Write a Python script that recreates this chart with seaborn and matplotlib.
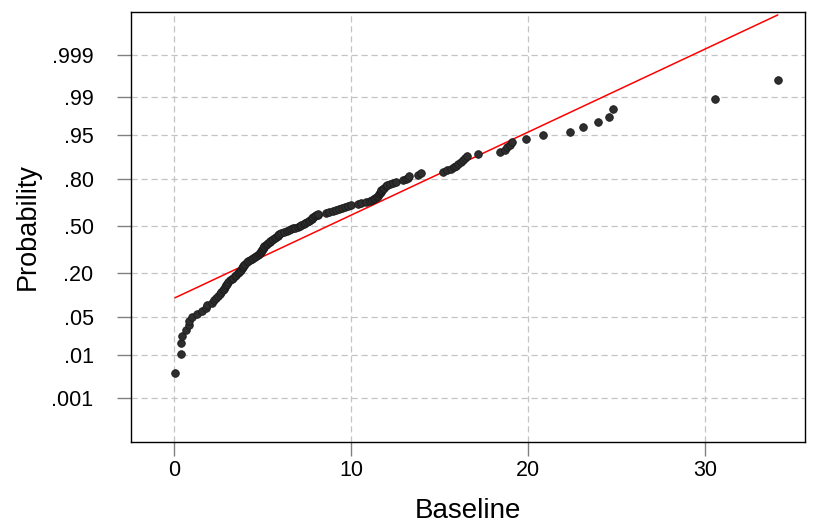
import numpy as np
import pandas as pd
import matplotlib
matplotlib.use("Agg")
import matplotlib.pyplot as plt
import seaborn as sns
from statistics import NormalDist

baseline = [
    0.06, 0.38, 0.40, 0.47, 0.68, 0.85, 0.86, 1.00, 1.30, 1.58,
    1.78, 1.89, 2.15, 2.26, 2.37, 2.49, 2.60, 2.66, 2.77, 2.82,
    2.88, 2.94, 2.99, 3.07, 3.16, 3.25, 3.33, 3.42, 3.53, 3.63,
    3.69, 3.73, 3.79, 3.82, 3.87, 3.92, 3.97, 4.01, 4.10, 4.18,
    4.29, 4.41, 4.49, 4.58, 4.66, 4.75, 4.80, 4.86, 4.92, 4.94,
    4.97, 5.00, 5.03, 5.06, 5.11, 5.17, 5.23, 5.31, 5.40, 5.45,
    5.54, 5.62, 5.71, 5.79, 5.85, 5.90, 5.96, 6.05, 6.21, 6.38,
    6.50, 6.61, 6.74, 6.84, 6.98, 7.09, 7.20, 7.32, 7.40, 7.50,
    7.60, 7.68, 7.77, 7.82, 7.85, 7.97, 8.05, 8.11, 8.16, 8.59,
    8.76, 8.98, 9.15, 9.32, 9.49, 9.66, 9.83, 10.00, 10.40, 10.56,
    10.85, 11.07, 11.19, 11.30, 11.38, 11.47, 11.53, 11.58, 11.61, 11.67,
    11.69, 11.72, 11.78, 11.86, 11.98, 12.06, 12.20, 12.37, 12.54, 12.94,
    13.11, 13.22, 13.28, 13.79, 13.95, 15.20, 15.42, 15.65, 15.82, 15.96,
    16.07, 16.21, 16.33, 16.44, 16.58, 17.18, 18.42, 18.70, 18.81, 18.98,
    19.10, 19.89, 20.86, 22.37, 23.12, 23.97, 24.59, 24.82, 30.56, 34.11,
]

# Fitted normal reference line parameters
fit_mean = 8.68
fit_sd = 6.68
line_x = [0.06, 34.11]

# Probability axis tick labels
prob_ticks = [0.001, 0.01, 0.05, 0.20, 0.50, 0.80, 0.95, 0.99, 0.999]
prob_labels = [".001", ".01", ".05", ".20", ".50", ".80", ".95", ".99", ".999"]
x_ticks = [0, 10, 20, 30]

nd = NormalDist()
n = len(baseline)
ranks = np.arange(1, n + 1)
pp = (ranks - 0.375) / (n + 0.25)          # Blom plotting positions
df = pd.DataFrame({"Baseline": baseline,
                   "z": [nd.inv_cdf(p) for p in pp]})
line_df = pd.DataFrame({"x": line_x,
                        "z": [(v - fit_mean) / fit_sd for v in line_x]})

sns.set_theme(style="ticks")
plt.rcParams["font.family"] = ["Liberation Sans", "DejaVu Sans"]

fig = plt.figure(figsize=(8.17, 5.27), dpi=100)
ax = fig.add_axes([131 / 817, 1 - 442 / 527, (805 - 131) / 817, (442 - 12) / 527])

ax.grid(True, color="#c4c4c4", linestyle=(0, (5, 3)), linewidth=0.9)
ax.set_axisbelow(True)

sns.lineplot(data=line_df, x="x", y="z", ax=ax, color="#ff0000",
             linewidth=1.1, zorder=2)
sns.scatterplot(data=df, x="Baseline", y="z", ax=ax, color="#2e2e2e",
                edgecolor="#1a1a1a", linewidth=0.6, s=30, zorder=3)

ax.set_xlim(-2.43, 35.65)
ax.set_ylim(-3.89, 3.86)
ax.set_xticks(x_ticks)
ax.set_xticklabels([str(t) for t in x_ticks])
ax.set_yticks([nd.inv_cdf(p) for p in prob_ticks])
ax.set_yticklabels(prob_labels)

ax.tick_params(axis="both", direction="out", length=10, width=1,
               color="#808080", labelsize=15.5, labelcolor="#000000")
ax.tick_params(axis="y", pad=17)
ax.tick_params(axis="x", pad=3)
for sp in ax.spines.values():
    sp.set_color("#000000")
    sp.set_linewidth(1.0)

ax.set_xlabel("Baseline", fontsize=20, color="#000000", labelpad=12.5)
ax.set_ylabel("Probability", fontsize=19.5, color="#000000", labelpad=8)

fig.savefig("out.png", dpi=100)
